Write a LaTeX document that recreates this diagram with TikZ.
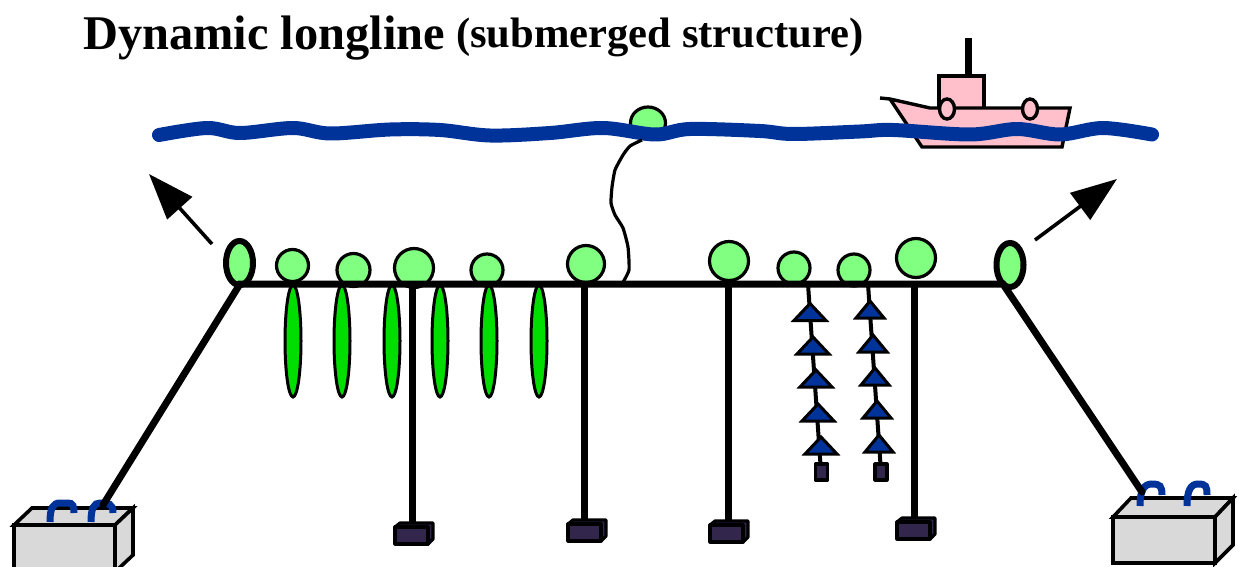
\documentclass[tikz,border=0pt]{standalone}
\usepackage{fontspec}
\setmainfont{Liberation Serif}
\usetikzlibrary{arrows.meta,shapes.geometric}
\definecolor{wave}{HTML}{003399}
\definecolor{floatg}{HTML}{80FF80}
\definecolor{leafg}{HTML}{00DD00}
\definecolor{weightc}{HTML}{33264D}
\definecolor{boatc}{HTML}{FFC0CB}
\definecolor{boxc}{HTML}{D9D9D9}
\tikzset{
 floatn/.style={ellipse,draw=black,fill=floatg,line width=3.2pt,inner sep=0pt,outer sep=0pt},
 endfloat/.style={floatn,line width=6pt,minimum width=27pt,minimum height=44pt},
 leafs/.style={draw=black,fill=leafg,line width=3pt},
 mainl/.style={line width=7pt,line cap=round},
 dropl/.style={line width=7pt},
 mussl/.style={line width=4pt},
 tri/.style={draw=black,fill=wave,line width=3pt,line join=miter},
 wt/.style={draw=black,fill=weightc,line width=3.2pt,line join=round},
 hookl/.style={draw=wave,line width=7pt},
 boxs/.style={draw=black,fill=boxc,line width=3.6pt,line join=miter},
 boats/.style={draw=black,fill=boatc,line width=3.4pt,line join=miter},
 arrowl/.style={line width=3.6pt,-{Triangle[length=46pt,width=33pt]}}
}
\begin{document}
\begin{tikzpicture}[x=1pt,y=-1pt]
\useasboundingbox (0,0) rectangle (1239,567);
\clip (0,0) rectangle (1239,567);
% title
\node[anchor=base west,inner sep=0pt,font=\bfseries\fontsize{48.4}{48}\selectfont] (title) at (83,50) {Dynamic longline};
\node[anchor=base west,inner sep=0pt,font=\bfseries\fontsize{42.6}{42}\selectfont] (subtitle) at (456,48) {(submerged structure)};
% boat
\draw[line width=7pt] (968,38) -- (968,76);
\draw[boats] (939,108) -- (939,76) -- (984,76) -- (984,108);
\draw[boats] (880,98) -- (890,99) -- (930,108) -- (1070,108) -- (1062,147) -- (922,147) -- (890,99);
\draw[boats] (947,109) ellipse (7.5 and 10);
\draw[boats] (1030,109) ellipse (7.5 and 10);
% surface buoy
\node[floatn,minimum width=35pt,minimum height=32pt] (buoy) at (648,123) {};
% wave
\draw[wave,line width=14pt,line cap=round,line join=round] plot[smooth,tension=.55] coordinates {
(159,135) (207,128) (240,133) (293,128) (330,133.5) (390,129.5) (440,130) (490,135.5) (550,133) (603,128) (655,134.5) (690,129) (760,131) (793,134) (860,131.5) (893,130) (970,134.5) (1017,129) (1060,134.5) (1103,128) (1152,134.5)};
% arrows
\coordinate (arrLs) at (212,244); \coordinate (arrLe) at (149,174);
\coordinate (arrRs) at (1035,240); \coordinate (arrRe) at (1117,179);
\draw[arrowl] (arrLs) -- (arrLe);
\draw[arrowl] (arrRs) -- (arrRe);
% boxes
\draw[boxs] (14,525) -- (32,508) -- (133,508) -- (115,525) -- cycle;
\draw[boxs] (115,525) -- (133,508) -- (133,555) -- (115,572) -- cycle;
\draw[boxs] (14,525) rectangle (115,575);
\draw[boxs] (1113,517) -- (1131,498) -- (1233,498) -- (1215,517) -- cycle;
\draw[boxs] (1215,517) -- (1233,498) -- (1233,545) -- (1215,563) -- cycle;
\draw[boxs] (1113,517) rectangle (1215,563);
% hooks
\draw[hookl] (50,522) .. controls (50,508) and (53,503) .. (60,503) -- (68,503) .. controls (73,503) and (74,506) .. (74,513);
\draw[hookl] (91,522) .. controls (91,508) and (94,503) .. (100,503) .. controls (108,503) and (113,503) .. (113,513);
\draw[hookl] (1140,506) .. controls (1140,490) and (1144,484) .. (1152,484) .. controls (1160,484) and (1162,486) .. (1162,495);
\draw[hookl] (1187,506) .. controls (1187,490) and (1191,484) .. (1198,484) .. controls (1206,484) and (1207,486) .. (1207,495);
% leaves
\foreach \x in {293,342,392,440,489,539}{
 \draw[leafs] (\x,341) ellipse (8 and 56);
}
% floats
\node[endfloat] (endL) at (239.5,263) {};
\node[endfloat] (endR) at (1010,265) {};
\foreach \n/\x/\y/\r in {f1/292.5/265.5/32,f2/353.5/270/33,f3/414/268/39,f4/487/270/32,f5/586/264/37,f6/729/261/39,f7/794/268/32,f8/854/270/32,f9/916/258/39}{
 \node[floatn,minimum size=\r pt] (\n) at (\x,\y) {};
}
% tether
\coordinate (tA) at (622,284); \coordinate (tB) at (642,140);
\draw[line width=3.2pt] plot[smooth,tension=.3] coordinates {(tA) (629,270) (628,247) (623,228) (615,215) (611,203) (612,187) (615,170) (623,155) (630,146) (tB)};
% main line and moorings
\coordinate (mL) at (240,284); \coordinate (mR) at (1003,284);
\coordinate (anchL) at (103,505); \coordinate (anchR) at (1142,492);
\draw[mainl] (anchL) -- (mL) -- (mR) -- (anchR);
% droppers with weights
\foreach \n/\x/\y/\xa/\ya in {a/412/522/395/527,b/584/520/568/524,c/728/520/710/525,d/914/517/897/522}{
 \coordinate (top\n) at (\x,284); \coordinate (bot\n) at (\x,\y);
 \draw[dropl] (top\n) -- (bot\n);
 \draw[wt] (\xa,\ya) -- (\xa+5,\ya-4) -- (\xa+38,\ya-4) -- (\xa+38,\ya+12) -- (\xa+33,\ya+17) -- (\xa+33,\ya) -- cycle;
 \draw[wt] (\xa,\ya) rectangle (\xa+33,\ya+17);
}
% mussel lines
\coordinate (mu1) at (808,284); \coordinate (mu2) at (821,472);
\coordinate (mv1) at (868,284); \coordinate (mv2) at (881,472);
\draw[mussl] (mu1) -- (mu2);
\draw[mussl] (mv1) -- (mv2);
\foreach \x/\y in {810/320.5,813/354,816/387,818/421,821/454}{
 \draw[tri] (\x-16,\y) -- (\x,\y-17) -- (\x+16,\y) -- cycle;
}
\foreach \x/\y in {870/318,873/352,875/385,877/418,879/452}{
 \draw[tri] (\x-14,\y) -- (\x,\y-17) -- (\x+14,\y) -- cycle;
}
\draw[wt] (815.5,464) rectangle (827.5,480);
\draw[wt] (875,464) rectangle (887,480);
\end{tikzpicture}
\end{document}
